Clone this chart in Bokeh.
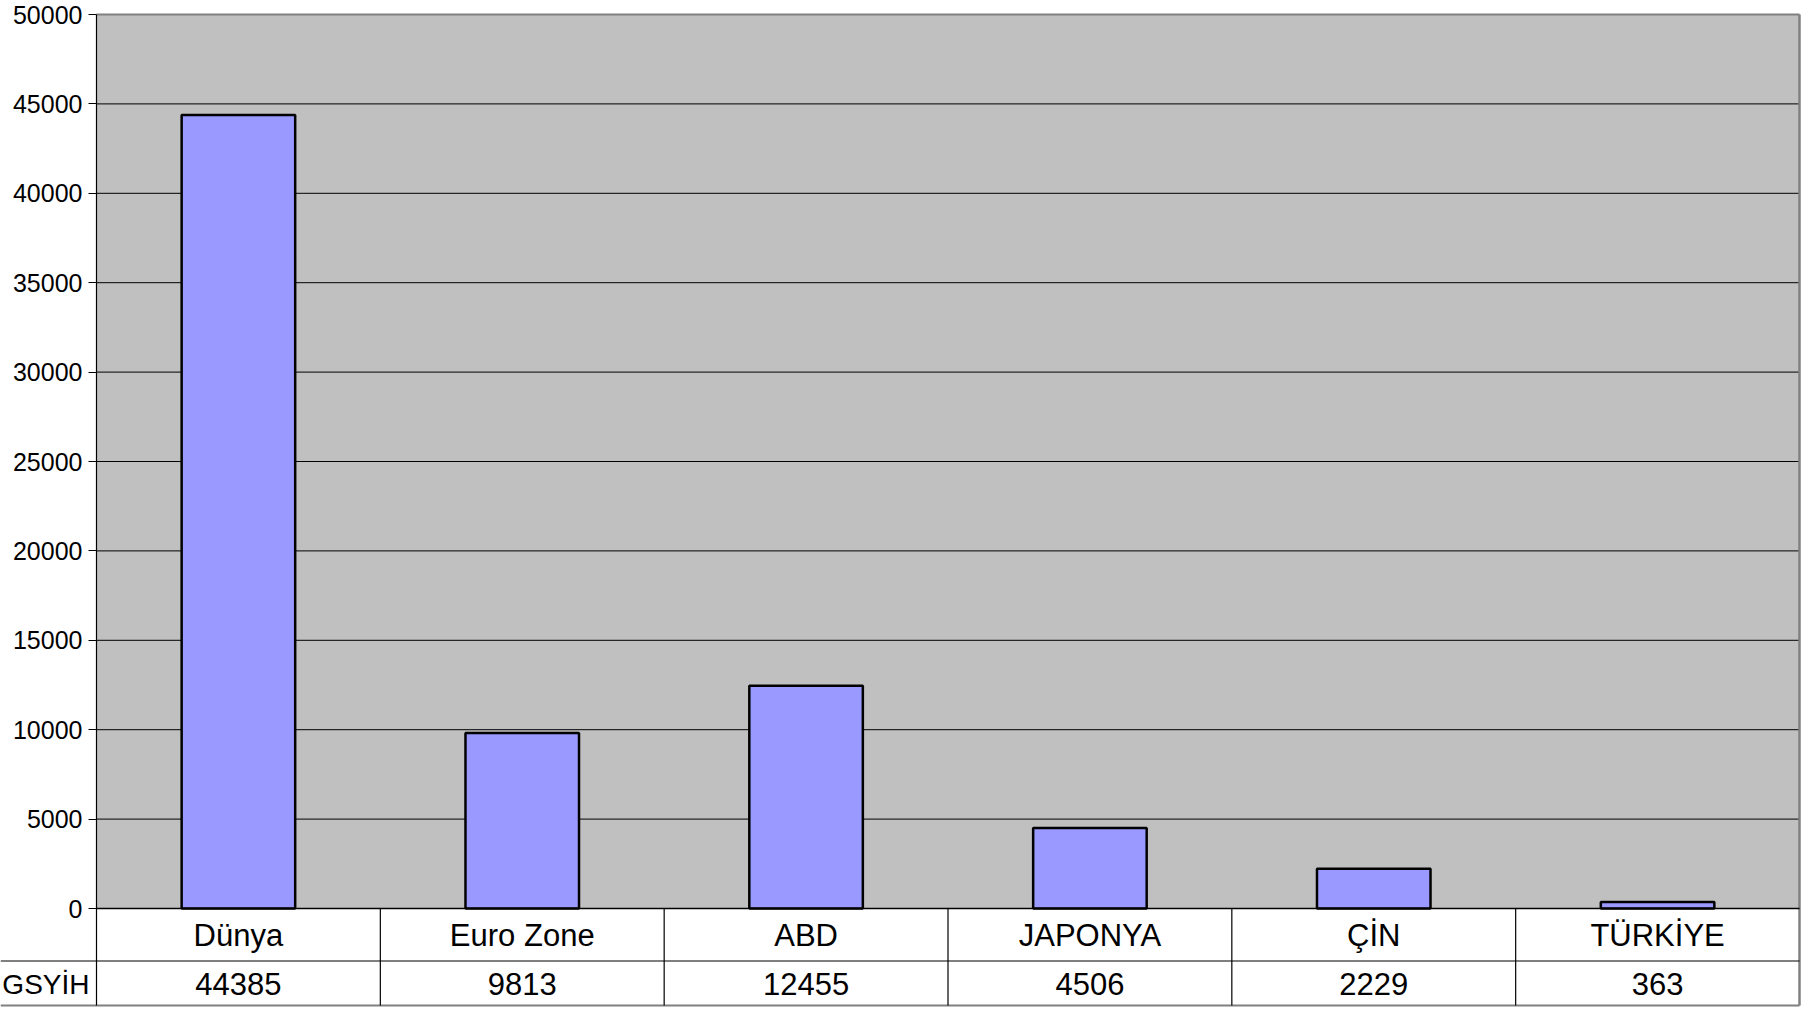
import numpy as np
from bokeh.plotting import figure
from bokeh.models import Range1d, FixedTicker, NumeralTickFormatter, ColumnDataSource, LinearAxis
from bokeh.core.properties import value
from bokeh.embed import file_html
from bokeh.resources import INLINE

# ---- data ----
categories = ["Dünya", "Euro Zone", "ABD", "JAPONYA", "ÇİN", "TÜRKİYE"]
gsyih = [44385, 9813, 12455, 4506, 2229, 363]
row_label = "GSYİH"
y_ticks = [0, 5000, 10000, 15000, 20000, 25000, 30000, 35000, 40000, 45000, 50000]

FONT = "Liberation Sans"
n = len(categories)
xc = np.arange(n) + 0.5

# ---- layout constants (pixels inside the figure canvas) ----
W, H = 1801, 1007
AX_X = 96           # x pixel of the value axis / table left border
PLOT_RIGHT = 1799   # x pixel of the plot's right border
PLOT_TOP = 14       # y pixel of the 50000 line
ZERO_Y = 908        # y pixel of the 0 line
ROW_SEP = 960.5     # y pixel of the row separator of the table
TBL_BOT = 1005      # y pixel of the table's bottom line

ymax = y_ticks[-1]
kx = (PLOT_RIGHT - AX_X) / n
ky = ymax / (ZERO_Y - PLOT_TOP)

p = figure(width=W, height=H, output_backend="svg", toolbar_location=None,
           x_range=Range1d(-AX_X / kx, n + (W - PLOT_RIGHT) / kx),
           y_range=Range1d(-(H - ZERO_Y) * ky, ymax + PLOT_TOP * ky),
           min_border_left=0, min_border_right=0, min_border_top=0, min_border_bottom=0,
           x_axis_type=None, y_axis_type=None)
p.extra_y_ranges = {"px": Range1d(H, 0)}
p.background_fill_color = "white"
p.border_fill_color = "white"
p.outline_line_color = None
p.grid.visible = False

# plot area background
bg = p.quad(left=[0], right=[n], bottom=[0], top=[ymax], fill_color="#c0c0c0", line_color=None)
bg.level = "image"

# horizontal grid lines
grid_vals = y_ticks[1:-1]
p.segment(x0=[0] * len(grid_vals), x1=[n] * len(grid_vals), y0=grid_vals, y1=grid_vals,
          line_color="black", line_width=1)

# bars
src = ColumnDataSource(dict(x=xc, top=gsyih))
p.vbar(x="x", top="top", width=0.4, bottom=0, source=src,
       fill_color="#9999ff", line_color="black", line_width=2.5)

# plot border (top and right, gray)
p.segment(x0=[0], x1=[n], y0=[ymax], y1=[ymax], line_color="#808080", line_width=2)
p.segment(x0=[n], x1=[n], y0=[ymax], y1=[-(TBL_BOT - ZERO_Y) * ky], line_color="#808080", line_width=2.5)
# zero line
p.segment(x0=[0], x1=[n], y0=[0], y1=[0], line_color="black", line_width=1.6)

# value axis at x = 0
yaxis = LinearAxis(fixed_location=0, ticker=FixedTicker(ticks=y_ticks),
                   formatter=NumeralTickFormatter(format="0"),
                   bounds=(-(TBL_BOT - ZERO_Y) * ky, ymax))
yaxis.axis_line_color = "black"
yaxis.axis_line_width = 1.2
yaxis.major_tick_line_color = "black"
yaxis.major_tick_out = 8
yaxis.major_tick_in = 0
yaxis.minor_tick_line_color = None
yaxis.major_label_text_font = FONT
yaxis.major_label_text_font_size = "25px"
yaxis.major_label_text_color = "black"
yaxis.major_label_standoff = 6
p.add_layout(yaxis, "left")

# ---- data table below the plot ----
x_start = p.x_range.start
p.segment(x0=[x_start], x1=[n], y0=[ROW_SEP], y1=[ROW_SEP], line_color="black",
          line_width=1.2, y_range_name="px")
p.segment(x0=[x_start], x1=[n], y0=[TBL_BOT], y1=[TBL_BOT], line_color="#808080",
          line_width=2, y_range_name="px")
inner = list(range(1, n))
p.segment(x0=inner, x1=inner, y0=[ZERO_Y] * len(inner), y1=[TBL_BOT] * len(inner),
          line_color="black", line_width=1.2, y_range_name="px")

row1_y = (ZERO_Y + ROW_SEP) / 2 + 1
row2_y = (ROW_SEP + TBL_BOT) / 2 + 1
p.text(x=xc, y=[row1_y] * n, text=categories, text_font=value(FONT), text_font_size="31px",
       text_align="center", text_baseline="middle", text_color="black", y_range_name="px")
p.text(x=xc, y=[row2_y] * n, text=[str(v) for v in gsyih], text_font=value(FONT),
       text_font_size="31px", text_align="center", text_baseline="middle", text_color="black",
       y_range_name="px")
p.text(x=[0], y=[row2_y], text=[row_label], x_offset=-7, text_font=value(FONT),
       text_font_size="28px", text_align="right", text_baseline="middle", text_color="black",
       y_range_name="px")

open("out.html", "w").write(file_html(p, INLINE))
